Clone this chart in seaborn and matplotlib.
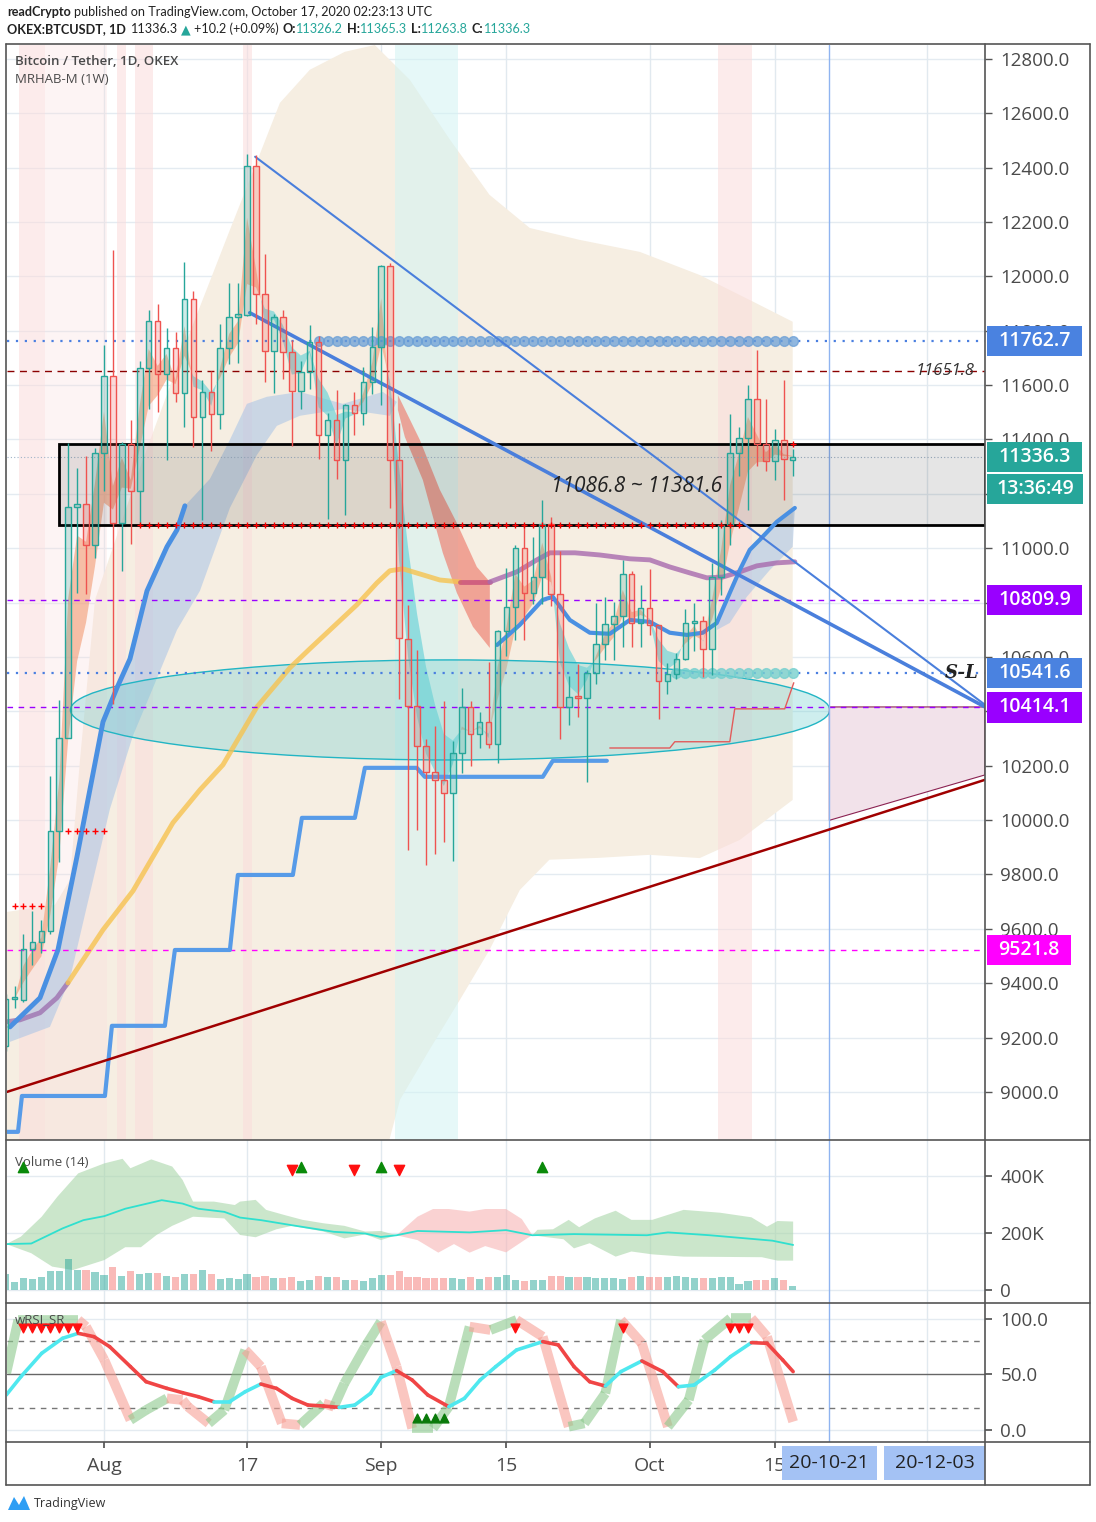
import numpy as np
import pandas as pd
import seaborn as sns
import matplotlib.pyplot as plt
from matplotlib.patches import Rectangle, Ellipse, Polygon
from matplotlib.lines import Line2D
from matplotlib.transforms import blended_transform_factory

W, H = 1096, 1522

# ---------------- data (day 0 = 2020-07-21, daily candles) ----------------
opens = [9170, 9340, 9338, 9525, 9550, 9591, 9958, 10301, 11151, 11162,
         11012, 11349, 11633, 11092, 11385, 11210, 11663, 11836, 11640, 11736,
         11570, 11916, 11483, 11574, 11495, 11736, 11850, 11859, 12406, 11934,
         11725, 11850, 11722, 11577, 11647, 11759, 11417, 11471, 11326, 11526,
         11499, 11611, 11740, 12037, 11326, 10667, 10421, 10271, 10176, 10147,
         10098, 10245, 10414, 10315, 10359, 10278, 10694, 10785, 11001, 10836,
         10895, 11089, 10832, 10417, 10451, 10448, 10541, 10648, 10720, 10752,
         10905, 10724, 10779, 10716, 10510, 10539, 10591, 10724, 10734, 10628,
         10893, 11085, 11351, 11405, 11550, 11384, 11321, 11398, 11326.2]
highs = [9360, 9390, 9582, 9664, 9632, 10163, 10443, 11387, 11296, 11340,
         11370, 11748, 12097, 11390, 11472, 11690, 11878, 11900, 11811, 11797,
         12053, 11946, 11617, 11651, 11825, 11976, 11976, 12449, 12445, 12083,
         11860, 11875, 11765, 11688, 11821, 11782, 11497, 11581, 11531, 11574,
         11665, 11812, 12040, 12048, 11460, 10790, 10624, 10297, 10345, 10437,
         10291, 10485, 10439, 10397, 10580, 10700, 10928, 11013, 11089, 11040,
         11178, 11116, 10988, 10531, 10573, 10553, 10798, 10822, 10801, 10957,
         10917, 10865, 10923, 10716, 10576, 10613, 10775, 10800, 10751, 10945,
         11105, 11492, 11447, 11599, 11730, 11550, 11437, 11618, 11365.3]
lows = [9150, 9310, 9330, 9468, 9512, 9580, 9846, 10300, 10836, 10830,
        10964, 11210, 10426, 10916, 11014, 11092, 11511, 11500, 11324, 11536,
        11447, 11371, 11103, 11356, 11438, 11677, 11680, 11855, 11825, 11613,
        11570, 11624, 11376, 11513, 11584, 11328, 11107, 11255, 11121, 11417,
        11454, 11567, 11526, 11148, 10446, 9888, 9964, 9833, 9876, 9921,
        9848, 10172, 10200, 10266, 10264, 10211, 10602, 10664, 10664, 10793,
        10793, 10786, 10297, 10350, 10380, 10139, 10500, 10589, 10589, 10638,
        10638, 10635, 10680, 10373, 10463, 10520, 10589, 10620, 10527, 10533,
        10828, 11013, 11265, 11142, 11304, 11283, 11252, 11179, 11263.8]
closes = [9340, 9345, 9525, 9550, 9591, 9958, 10301, 11151, 11162, 11012,
          11349, 11633, 11092, 11385, 11210, 11663, 11836, 11640, 11736, 11570,
          11916, 11483, 11574, 11495, 11736, 11850, 11859, 12406, 11934, 11725,
          11850, 11722, 11577, 11647, 11759, 11417, 11471, 11326, 11526, 11499,
          11611, 11740, 12037, 11326, 10669, 10421, 10271, 10176, 10147, 10098,
          10245, 10414, 10315, 10359, 10278, 10694, 10785, 11001, 10836, 10895,
          11089, 10832, 10417, 10451, 10448, 10541, 10648, 10720, 10752, 10905,
          10724, 10779, 10716, 10510, 10539, 10591, 10724, 10734, 10628, 10893,
          11085, 11351, 11405, 11550, 11384, 11321, 11398, 11327, 11336.3]
volumes_k = [56, 28, 42, 39, 46, 66, 66, 108, 70, 70,
             63, 52, 80, 49, 66, 56, 59, 59, 49, 45,
             56, 56, 70, 56, 38, 42, 38, 56, 45, 49,
             43, 42, 45, 31, 35, 49, 45, 45, 35, 35,
             31, 42, 52, 52, 66, 45, 45, 42, 42, 42,
             42, 38, 45, 38, 45, 45, 52, 35, 31, 35,
             35, 49, 49, 45, 45, 45, 42, 42, 42, 38,
             45, 49, 45, 45, 45, 49, 45, 42, 42, 42,
             45, 45, 21, 31, 35, 35, 42, 35, 14]

# MRHAB cloud (beige)
cloud_up_day = [0.16, 5.52, 7.2, 8.32, 10.0, 15.02, 20.28, 25.08, 27.87, 30.67, 34.02, 37.93,
                41.28, 45.2, 49.7, 54.1, 58.6, 64.2, 70.9, 77.6, 83.2, 88.0]
cloud_up_px = [9662, 9688, 9780, 10221, 10810, 11295, 11766, 12171, 12403, 12638, 12760, 12826,
               12851, 12723, 12502, 12300, 12178, 12134, 12090, 12005, 11913, 11833]
cloud_lo_day = [0.16, 42.4, 44.1, 47.4, 50.8, 54.1, 57.5, 60.8, 66.4, 72.0, 77.6, 82.1, 88.0]
cloud_lo_px = [8700, 8760, 8971, 9155, 9339, 9522, 9743, 9854, 9861, 9872, 9860, 9927, 10074]

# slow moving average (yellow / purple)
ma_day = [0.16, 1.61, 3.85, 5.74, 6.97, 10.89, 14.24, 16.14, 18.71, 21.73, 24.3, 28.1, 31.79,
          34.02, 36.26, 39.28, 41.51, 42.96, 44.42, 46.65, 48.55, 50.79, 54.14, 57.16, 59.4,
          60.85, 63.65, 66.44, 69.79, 72.03, 74.26, 76.5, 78.4, 80.19, 82.09, 83.99, 86.22, 88.24]
ma_px = [9258, 9265, 9291, 9346, 9401, 9596, 9739, 9846, 9990, 10111, 10203, 10416, 10560,
         10630, 10699, 10792, 10872, 10917, 10924, 10902, 10883, 10876, 10876, 10913, 10957,
         10983, 10983, 10975, 10961, 10957, 10931, 10909, 10891, 10894, 10913, 10935, 10946, 10950]

# MRHAB trend line (thick blue), two pieces
trend_a_day = [0.49, 3.85, 5.86, 7.98, 10.89, 12.45, 13.91, 15.81, 18.04, 19.16, 20.05]
trend_a_px = [9239, 9346, 9523, 9865, 10361, 10486, 10593, 10843, 11005, 11067, 11156]
trend_b_day = [54.95, 57.49, 60.06, 61.18, 63.08, 65.32, 67.55, 69.79, 72.03, 74.26, 76.16,
               77.95, 79.51, 80.97, 82.09, 83.2, 84.32, 86.22, 88.24]
trend_b_px = [10644, 10718, 10810, 10821, 10736, 10689, 10685, 10736, 10729, 10689, 10681,
              10689, 10725, 10836, 10920, 10994, 11031, 11097, 11148]

# light blue ribbons
band_a_up_day = trend_a_day + [22.85, 25.08, 26.98, 29.22, 32.9, 37.71, 42.18, 43.74]
band_a_up_px = trend_a_px + [11255, 11399, 11531, 11557, 11575, 11531, 11575, 11538]
band_a_lo_day = [0.49, 4.96, 7.2, 9.1, 11.67, 14.24, 16.48, 19.16, 21.73, 25.08, 28.1, 30.33,
                 32.9, 37.71, 42.96]
band_a_lo_px = [9184, 9239, 9416, 9684, 10041, 10310, 10486, 10699, 10843, 11148, 11343, 11450,
                11487, 11512, 11487]
band_b_lo_day = [79.51, 80.97, 82.87, 85.45, 88.0]
band_b_lo_px = [10699, 10725, 10821, 10920, 11005]

# falling red ribbon after the September drop
red_up_day = [43.86, 46.32, 48.55, 50.45, 52.69, 54.14]
red_up_px = [11564, 11398, 11215, 11093, 10931, 10876]
red_lo_day = [43.86, 44.64, 46.65, 48.88, 50.45, 52.25, 54.14]
red_lo_px = [11509, 11409, 11251, 10983, 10836, 10711, 10633]

# weekly support steps (blue) and red trailing line
step_day = [0.16, 1.39, 1.83, 11.11, 11.89, 17.81, 18.93, 25.08, 25.97, 32.12, 33.13, 39.05,
            40.17, 45.98, 46.87, 60.06, 61.18, 67.22]
step_px = [8853, 8853, 8985, 8985, 9243, 9243, 9522, 9522, 9798, 9798, 10008, 10008,
           10192, 10192, 10159, 10159, 10218, 10218]
trail_day = [67.55, 74.26, 74.82, 80.97, 81.52, 87.11, 88.12]
trail_px = [10265, 10265, 10288, 10288, 10409, 10409, 10505]

# drawn levels and lines
box_low, box_high = 11086.8, 11381.6
levels = {"res_blue": 11762.7, "res_red": 11651.8, "last": 11336.3, "purple_hi": 10809.9,
          "sl": 10541.6, "purple_lo": 10414.1, "magenta": 9521.8}
fan_thin = ([27.9, 109.5], [12440, 10424])
fan_thick = ([27.3, 109.5], [11866, 10416])
support_red = ([0.16, 109.5], [9000, 10148])
proj_day = [92.1, 109.5, 109.5, 92.1]
proj_px = [10416, 10416, 10166, 9999]
red_spans = [(1.5, 4.4, 0.55), (4.4, 11.3, 0.3), (12.45, 13.46, 0.55), (14.46, 16.47, 0.55),
             (26.53, 27.54, 0.55), (79.6, 83.4, 0.55)]
cyan_span = (43.5, 50.6)
plus_rows = [(9685, [1, 2, 3, 4]), (9958, [7, 8, 9, 10, 11]),
             (11086.8, list(range(15, 83))), (11381.6, [88])]
dots_hi_days = list(range(35, 89))
dots_lo_days = list(range(75, 89))
price_ticks = list(range(9000, 12801, 200))
hidden_ticks = [10400, 10800, 11200]   # fully covered by price tags on the reference

# volume panel
vol_ma_day = [0.07, 2.87, 6.37, 8.71, 11.04, 13.38, 17.46, 19.79, 21.54, 24.46, 26.21, 28.54,
              32.04, 36.71, 40.21, 41.96, 43.71, 46.05, 51.88, 55.96, 58.88, 63.55, 71.71,
              74.05, 78.72, 85.72, 88.05]
vol_ma_k = [161, 163, 216, 245, 259, 285, 315, 303, 285, 274, 254, 245, 227, 204, 198, 186,
            192, 207, 202, 210, 192, 196, 192, 202, 192, 173, 158]
vol_up_day = [0.07, 1.71, 4.04, 5.79, 8.12, 11.04, 13.08, 13.96, 16.29, 18.63, 19.79, 20.96,
              23.29, 25.63, 26.21, 27.96, 29.13, 31.17, 33.21, 35.54, 37.88, 40.21, 41.96,
              43.71, 46.05, 47.79, 49.55, 51.88, 53.63, 55.96, 57.71, 58.9, 59.46, 61.21, 62.96,
              64.13, 65.88, 68.21, 69.97, 72.3, 75.8, 79.88, 83.38, 85.13, 86.3, 88.05]
vol_up_k = [161, 187, 257, 327, 409, 444, 460, 427, 458, 433, 386, 310, 310, 298, 310, 316,
            281, 263, 246, 234, 225, 205, 207, 192, 257, 284, 284, 275, 284, 284, 249, 192,
            211, 213, 246, 220, 251, 278, 246, 246, 281, 271, 255, 222, 242, 240]
vol_lo_day = [0.07, 2.87, 5.21, 7.54, 11.04, 13.38, 15.13, 16.88, 18.63, 20.96, 24.46, 26.21,
              27.96, 30.29, 32.04, 35.54, 37.88, 40.21, 41.96, 43.71, 46.05, 48.38, 50.13,
              51.88, 53.63, 55.96, 58.3, 58.9, 60.05, 62.38, 63.55, 65.3, 68.21, 69.97, 72.3,
              75.8, 84.55, 86.3, 88.05]
vol_lo_k = [161, 129, 82, 70, 105, 150, 150, 193, 225, 257, 251, 193, 185, 213, 225, 205, 181,
            195, 175, 192, 175, 131, 161, 131, 154, 132, 181, 192, 187, 178, 146, 164, 117,
            135, 125, 117, 115, 103, 103]
vol_red_range = (43.71, 58.9)
vol_up_marks = [2, 33, 42, 60]
vol_down_marks = [32, 39, 44]

# wRSI_SR panel
rsi_day = [0.07, 1.71, 4.04, 6.37, 8.12, 9.88, 11.63, 13.96, 15.71, 18.04, 19.79, 21.54, 23.29,
           25.04, 26.79, 28.54, 30.29, 32.04, 33.79, 35.54, 37.29, 39.04, 40.8, 41.96, 43.71,
           45.46, 47.21, 49.55, 51.3, 53.05, 54.8, 57.13, 60.05, 61.8, 63.55, 65.3, 67.05,
           68.8, 71.13, 73.47, 75.22, 76.97, 79.3, 81.05, 83.38, 85.13, 86.88, 88.05]
rsi_val = [31.5, 48.0, 69.1, 82.6, 87.1, 84.1, 75.1, 57.1, 43.5, 37.5, 33.6, 30.0, 25.5, 25.5,
           34.5, 41.4, 37.5, 28.5, 22.5, 21.6, 20.4, 22.5, 33.0, 47.4, 53.5, 45.0, 31.5, 21.0,
           28.5, 45.0, 57.1, 72.1, 79.6, 76.6, 57.1, 43.5, 39.6, 52.6, 62.2, 52.6, 39.0, 40.5,
           54.1, 66.1, 78.7, 78.1, 63.1, 52.6]
osc_day = [0.07, 1.42, 8.12, 9.0, 11.04, 13.96, 15.71, 18.04, 19.79, 20.38, 22.71, 24.46,
           26.79, 28.54, 30.88, 32.92, 35.54, 36.71, 37.88, 40.21, 41.96, 43.71, 45.46, 47.79,
           49.55, 51.88, 54.21, 57.13, 60.05, 62.96, 64.71, 67.05, 68.8, 71.13, 74.05, 76.38,
           78.13, 81.05, 83.38, 85.13, 88.05]
osc_val = [51.1, 99.1, 99.1, 93.1, 63.1, 9.0, 18.0, 28.5, 27.0, 21.0, 6.0, 18.0, 72.1, 57.1,
           6.0, 4.5, 24.0, 21.0, 42.0, 75.1, 97.6, 57.1, 1.5, 1.5, 21.0, 93.1, 90.1, 99.1,
           84.1, 3.0, 6.0, 33.0, 99.1, 78.1, 3.0, 27.0, 81.1, 100.6, 100.6, 84.1, 7.5]
rsi_sell_days = [2, 3, 4, 5, 6, 7, 8, 57, 69, 81, 82, 83]
rsi_buy_days = [46, 47, 48, 49]

tick_days = [11, 27, 42, 56, 72, 86]
tick_names = ["Aug", "17", "Sep", "15", "Oct", "15"]
grid_days = tick_days + [103]
vline_day = 92.1

XMIN, XMAX = 0.16, 109.5

# ---------------- style ----------------
sns.set_theme(style="white")
plt.rcParams["font.family"] = ["Open Sans", "DejaVu Sans"]
TXT = "#4a4a4a"
GREEN, RED = "#26a69a", "#ef5350"
BLUE = "#4a90e2"

fig = plt.figure(figsize=(W / 100, H / 100), dpi=100)
fig.patch.set_facecolor("white")


def box(x0, y0, x1, y1):
    return [x0 / W, 1 - y1 / H, (x1 - x0) / W, (y1 - y0) / H]


ax = fig.add_axes(box(7, 45, 985, 1140))
axv = fig.add_axes(box(7, 1140, 985, 1303))
axr = fig.add_axes(box(7, 1303, 985, 1442))
axt = fig.add_axes(box(7, 1442, 985, 1485))
for a in (ax, axv, axr, axt):
    a.set_xlim(XMIN, XMAX)
    a.set_facecolor("white")
    for s in a.spines.values():
        s.set_visible(False)
    a.tick_params(axis="x", bottom=False, labelbottom=False)
    a.grid(False)

days = np.arange(len(closes))
o, h, l, c = map(np.array, (opens, highs, lows, closes))
up = c >= o

# ---------------- main panel ----------------
ax.set_ylim(8823, 12851)
for p in price_ticks:
    ax.axhline(p, color="#e4ebf1", lw=1, zorder=0)
for d in grid_days:
    ax.axvline(d, color="#e1e9ef", lw=1, zorder=0)

ax.fill(np.r_[cloud_up_day, cloud_lo_day[::-1]], np.r_[cloud_up_px, cloud_lo_px[::-1]],
        color="#f6eee2", lw=0, zorder=0.2)
for d0, d1, al in red_spans:
    ax.axvspan(d0, d1, color="#fbdcdc", alpha=al, lw=0, zorder=0.3)
ax.axvspan(*cyan_span, color="#d2f4f4", alpha=0.55, lw=0, zorder=0.3)

# ribbons
ax.fill(np.r_[band_a_up_day, band_a_lo_day[::-1]], np.r_[band_a_up_px, band_a_lo_px[::-1]],
        color="#a7c3e6", alpha=0.55, lw=0, zorder=1)
ax.fill(np.r_[trend_b_day[12:], band_b_lo_day[::-1]], np.r_[trend_b_px[12:], band_b_lo_px[::-1]],
        color="#a7c3e6", alpha=0.55, lw=0, zorder=1)
ax.fill(np.r_[red_up_day, red_lo_day[::-1]], np.r_[red_up_px, red_lo_px[::-1]],
        color="#ee7b6c", alpha=0.65, lw=0, zorder=1.1)

ema_fast = pd.Series(closes).ewm(span=2, adjust=False).mean().values
ema_slow = pd.Series(closes).ewm(span=5, adjust=False).mean().values
ax.fill_between(days, ema_fast, ema_slow, where=ema_fast >= ema_slow, interpolate=True,
                color="#f29a72", alpha=0.6, lw=0, zorder=1.2)
ax.fill_between(days, ema_fast, ema_slow, where=ema_fast < ema_slow, interpolate=True,
                color="#5ccfd6", alpha=0.6, lw=0, zorder=1.2)

# teal ellipse zone
ax.add_patch(Ellipse((49.7, 10405), 84.9, 368, facecolor=(0.45, 0.82, 0.82, 0.35),
                     edgecolor="#22b5c4", lw=1, zorder=1.3))

# moving average, split by colour
ma_d, ma_p = np.array(ma_day), np.array(ma_px)
segs = [(ma_d <= 6.97, "#9e72b0"), ((ma_d >= 6.97) & (ma_d <= 50.79), "#f6c350"),
        ((ma_d >= 50.79) & (ma_d <= 54.14), "#c8507a"), (ma_d >= 54.14, "#a86aae")]
for m, col in segs:
    sns.lineplot(x=ma_d[m], y=ma_p[m], ax=ax, color=col, lw=3.5, alpha=0.8, sort=False,
                 estimator=None, zorder=2)

sns.lineplot(x=trend_a_day, y=trend_a_px, ax=ax, color=BLUE, lw=3.5, sort=False,
             estimator=None, zorder=3)
sns.lineplot(x=trend_b_day, y=trend_b_px, ax=ax, color=BLUE, lw=3, sort=False,
             estimator=None, zorder=3)
sns.lineplot(x=step_day, y=step_px, ax=ax, color="#579be8", lw=3, sort=False,
             estimator=None, zorder=3)
sns.lineplot(x=trail_day, y=trail_px, ax=ax, color="#e25b5b", lw=1, sort=False,
             estimator=None, zorder=3)

# levels
ax.axhline(levels["res_blue"], color="#4a7fe0", lw=1.6, ls=(0, (1, 3)), zorder=2.5)
ax.axhline(levels["sl"], color="#4a7fe0", lw=1.6, ls=(0, (1, 3)), zorder=2.5)
ax.axhline(levels["res_red"], color="#8b0000", lw=1, ls=(0, (5, 4)), zorder=2.5)
ax.axhline(levels["purple_hi"], color="#9900ff", lw=1, ls=(0, (4, 4)), zorder=2.5)
ax.axhline(levels["purple_lo"], color="#9900ff", lw=1, ls=(0, (4, 4)), zorder=2.5)
ax.axhline(levels["magenta"], color="#ff00ff", lw=1, ls=(0, (4, 4)), zorder=2.5)
ax.axhline(levels["last"], color="#9fb3c8", lw=0.8, ls=(0, (1, 2)), zorder=2.5)
ax.axvline(vline_day, color="#8fb4f0", lw=1, zorder=2.5)

ax.plot(dots_hi_days, [levels["res_blue"]] * len(dots_hi_days), "o", ms=7,
        color="#6b9fd6", alpha=0.75, zorder=2.6)
ax.plot(dots_lo_days, [levels["sl"]] * len(dots_lo_days), "o", ms=7,
        color="#77d0cf", alpha=0.8, zorder=2.6)

# box zone
ax.add_patch(Rectangle((5.97, box_low), XMAX - 5.97, box_high - box_low,
                       facecolor=(0, 0, 0, 0.1), edgecolor="black", lw=2, zorder=2.7))
ax.text(70.6, (box_low + box_high) / 2 - 8, "11086.8 ~ 11381.6", fontsize=15,
        style="italic", color="#222222", ha="center", va="center", zorder=8)
for p, ds in plus_rows:
    ax.plot(ds, [p] * len(ds), "+", ms=4, mew=1, color="red", zorder=7)

# trend fan and projection
ax.add_patch(Polygon(list(zip(proj_day, proj_px)), closed=True, facecolor="#f2e2ea",
                     edgecolor="#8b2252", lw=0.8, zorder=1.4))
sns.lineplot(x=support_red[0], y=support_red[1], ax=ax, color="#a00000", lw=1.8, zorder=3)
sns.lineplot(x=fan_thin[0], y=fan_thin[1], ax=ax, color="#4a7fdc", lw=1.5, zorder=3)
sns.lineplot(x=fan_thick[0], y=fan_thick[1], ax=ax, color="#4a7fdc", lw=2.6, zorder=3)

# candles
edge = np.where(up, GREEN, RED)
face = [(0.15, 0.65, 0.6, 0.22) if u else (0.94, 0.33, 0.31, 0.22) for u in up]
btop = np.maximum(o, c)
bbot = np.minimum(o, c)
bh = np.maximum(btop - bbot, 10)
ax.vlines(days, btop, h, colors=edge, lw=1, zorder=5)
ax.vlines(days, l, bbot, colors=edge, lw=1, zorder=5)
ax.bar(days, bh, bottom=bbot, width=0.62, color=face, edgecolor=edge, lw=1, zorder=6)

ax.text(106.9, levels["sl"], "S-L", fontsize=13, style="italic", weight="bold",
        family="DejaVu Serif", color="#222222", ha="center", va="center", zorder=8)
ax.text(108.3, levels["res_red"], "11651.8", fontsize=12, style="italic", color="#333333",
        ha="right", va="center", zorder=8)
ax.text(0.008, 0.991, "Bitcoin / Tether, 1D, OKEX", transform=ax.transAxes, fontsize=9.5,
        weight="semibold", color=TXT, va="top")
ax.text(0.008, 0.974, "MRHAB-M (1W)", transform=ax.transAxes, fontsize=9.5, color=TXT, va="top")

ax.yaxis.tick_right()
ax.set_yticks(price_ticks)
ax.set_yticklabels(["" if v in hidden_ticks else f"{v:.1f}" for v in price_ticks])
ax.tick_params(axis="y", right=True, length=5, width=1, color="#555555", labelsize=13.5,
               labelcolor=TXT, pad=6)
ax.set_xlabel("")
ax.set_ylabel("")

trans = blended_transform_factory(ax.transAxes, ax.transData)
tags = [(levels["res_blue"], "11762.7", "#4a82e0", 0.0971),
        (levels["last"], "11336.3", "#26a69a", 0.0971),
        (levels["last"] - 118, "13:36:49", "#26a69a", 0.0981),
        (levels["purple_hi"], "10809.9", "#9900ff", 0.0971),
        (levels["sl"], "10541.6", "#4a82e0", 0.0971),
        (levels["purple_lo"], "10414.1", "#9900ff", 0.0971),
        (levels["magenta"], "9521.8", "#ff00ff", 0.0857)]
for p, label, col, wd in tags:
    ax.add_patch(Rectangle((1.002, p - 56), wd, 112, transform=trans, facecolor=col,
                           edgecolor="none", clip_on=False, zorder=20))
    ax.text(1.002 + wd / 2, p, label, transform=trans, color="white", fontsize=14,
            weight="semibold", ha="center", va="center", clip_on=False, zorder=21)

# ---------------- volume panel ----------------
axv.set_ylim(-45.6, 526)
for v in (0, 200, 400):
    axv.axhline(v, color="#e4ebf1", lw=1, zorder=0)
for d in grid_days:
    axv.axvline(d, color="#e1e9ef", lw=1, zorder=0)
axv.axvline(vline_day, color="#8fb4f0", lw=1, zorder=0.5)

up_d, up_k = np.array(vol_up_day), np.array(vol_up_k)
lo_d, lo_k = np.array(vol_lo_day), np.array(vol_lo_k)
r0, r1 = vol_red_range
for m_up, m_lo, col in [((up_d <= r0), (lo_d <= r0), "#a9d6a9"),
                        ((up_d >= r0) & (up_d <= r1), (lo_d >= r0) & (lo_d <= r1), "#f7b5b5"),
                        ((up_d >= r1), (lo_d >= r1), "#a9d6a9")]:
    axv.fill(np.r_[up_d[m_up], lo_d[m_lo][::-1]], np.r_[up_k[m_up], lo_k[m_lo][::-1]],
             color=col, alpha=0.6, lw=0, zorder=1)
vcols = [(0.15, 0.65, 0.6, 0.5) if u else (0.94, 0.33, 0.31, 0.4) for u in up]
axv.bar(days, volumes_k, width=0.8, color=vcols, lw=0, zorder=2)
sns.lineplot(x=vol_ma_day, y=vol_ma_k, ax=axv, color="#2fe0cf", lw=1.3, sort=False,
             estimator=None, zorder=3)
axv.scatter(vol_up_marks, [432] * len(vol_up_marks), marker="^", s=55, color="#0a8a0a", zorder=4)
axv.scatter(vol_down_marks, [421] * len(vol_down_marks), marker="v", s=55, color="#ff1010", zorder=4)
axv.text(0.008, 0.9, "Volume (14)", transform=axv.transAxes, fontsize=9.5, color=TXT, va="top")
axv.yaxis.tick_right()
axv.set_yticks([0, 200, 400])
axv.set_yticklabels(["0", "200K", "400K"])
axv.tick_params(axis="y", right=True, length=5, color="#555555", labelsize=13.5,
                labelcolor=TXT, pad=6)
axv.set_xlabel("")
axv.set_ylabel("")

# ---------------- wRSI_SR panel ----------------
axr.set_ylim(-10.8, 114.4)
for v in (0, 100):
    axr.axhline(v, color="#e4ebf1", lw=1, zorder=0)
for d in grid_days:
    axr.axvline(d, color="#e1e9ef", lw=1, zorder=0)
axr.axvline(vline_day, color="#8fb4f0", lw=1, zorder=0.5)
axr.axhline(50, color="#666666", lw=1, zorder=0.6)
axr.axhline(80, color="#777777", lw=1, ls=(0, (4, 4)), zorder=0.6)
axr.axhline(20, color="#777777", lw=1, ls=(0, (4, 4)), zorder=0.6)

for i in range(len(osc_day) - 1):
    col = "#8cc98c" if osc_val[i + 1] >= osc_val[i] else "#f7a096"
    axr.plot(osc_day[i:i + 2], osc_val[i:i + 2], color=col, lw=7, alpha=0.6,
             solid_capstyle="butt", zorder=1)
for i in range(len(rsi_day) - 1):
    col = "#4fe8ef" if rsi_val[i + 1] >= rsi_val[i] else "#f04545"
    axr.plot(rsi_day[i:i + 2], rsi_val[i:i + 2], color=col, lw=2.6, zorder=2,
             solid_capstyle="round")
axr.scatter(rsi_sell_days, [92] * len(rsi_sell_days), marker="v", s=40, color="#ff1010", zorder=3)
axr.scatter(rsi_buy_days, [11] * len(rsi_buy_days), marker="^", s=40, color="#0a7a0a", zorder=3)
axr.text(0.008, 0.93, "wRSI_SR", transform=axr.transAxes, fontsize=9.5, color=TXT, va="top")
axr.yaxis.tick_right()
axr.set_yticks([0, 50, 100])
axr.set_yticklabels(["0.0", "50.0", "100.0"])
axr.tick_params(axis="y", right=True, length=5, color="#555555", labelsize=13.5,
                labelcolor=TXT, pad=6)

# ---------------- time scale ----------------
axt.set_ylim(0, 1)
axt.set_yticks([])
axt.set_xticks(tick_days)
axt.tick_params(axis="x", top=True, bottom=False, labeltop=False, labelbottom=False,
                direction="in", length=4, color="#555555")
for d, name in zip(tick_days, tick_names):
    axt.text(d, 0.45, name, fontsize=14, color=TXT, ha="center", va="center")
for d0, d1, name in [(86.78, 97.4, "20-10-21"), (98.2, 109.5, "20-12-03")]:
    axt.add_patch(Rectangle((d0, 0.116), d1 - d0, 0.79, facecolor="#a4c2f4", lw=0, zorder=5))
    axt.text((d0 + d1) / 2, 0.5, name, fontsize=14, color="#222222", ha="center",
             va="center", zorder=6)

# ---------------- frame ----------------
def fline(x0, y0, x1, y1, col="#555555", lw=1.2):
    fig.add_artist(Line2D([x0 / W, x1 / W], [1 - y0 / H, 1 - y1 / H], color=col, lw=lw))


fline(6, 44, 1090, 44)
fline(6, 1485, 1090, 1485)
fline(6, 44, 6, 1485)
fline(1090, 44, 1090, 1485)
fline(985, 44, 985, 1485)
for yy in (1140, 1303, 1442):
    fline(6, yy, 1090, yy)

# ---------------- header ----------------
renderer = fig.canvas.get_renderer()


def chain(pieces, x_px, y_px, size):
    x = x_px
    for txt, col, wt, gap in pieces:
        t = fig.text(x / W, 1 - y_px / H, txt, color=col, fontsize=size, weight=wt,
                     family=["Lato", "DejaVu Sans"], ha="left", va="center")
        x = t.get_window_extent(renderer=renderer).x1 + gap


chain([("readCrypto", "#222222", "bold", 3),
       ("published on TradingView.com, October 17, 2020 02:23:13 UTC", "#222222", "normal", 0)],
      7, 12, 9.1)
chain([("OKEX:BTCUSDT, 1D", "#222222", "bold", 5), ("11336.3", "#222222", "normal", 3),
       ("\u25b2", "#26a69a", "normal", 3), ("+10.2 (+0.09%)", "#222222", "normal", 4),
       ("O:", "#222222", "bold", 0), ("11326.2", "#26a69a", "normal", 4),
       ("H:", "#222222", "bold", 0), ("11365.3", "#26a69a", "normal", 4),
       ("L:", "#222222", "bold", 0), ("11263.8", "#26a69a", "normal", 4),
       ("C:", "#222222", "bold", 0), ("11336.3", "#26a69a", "normal", 0)],
      7, 29, 9.1)

# footer logo
fig.add_artist(Polygon([(8 / W, 1 - 1510 / H), (14 / W, 1 - 1497 / H), (19 / W, 1 - 1505 / H),
                        (24 / W, 1 - 1496 / H), (30 / W, 1 - 1510 / H)], closed=True,
                       facecolor="#2e9ef4", edgecolor="none"))
fig.text(34 / W, 1 - 1503 / H, "TradingView", fontsize=9, color="#333333", va="center")

fig.savefig("out.png", dpi=100, facecolor="white")
